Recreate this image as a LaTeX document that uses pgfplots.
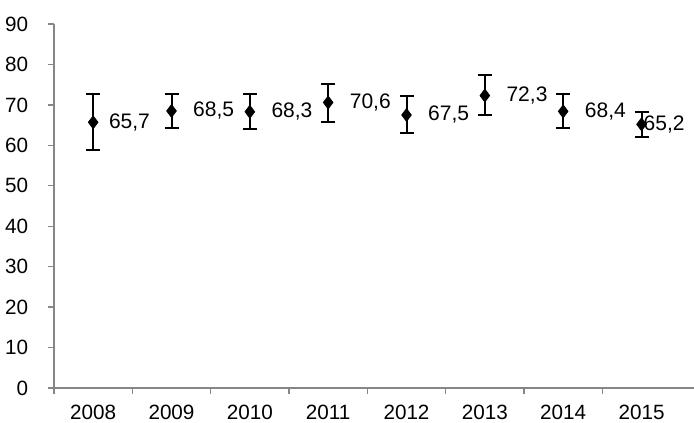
\documentclass[border=0pt]{standalone}
\usepackage{pgfplots}
\usepackage{pgfplotstable}
\pgfplotsset{compat=1.18}
\usepackage{fontspec}
\setmainfont{Liberation Sans}
\definecolor{axgray}{HTML}{868686}

% year index, value, error plus, error minus, label shift (pt)
\pgfplotstableread{
x y    ep  em  dx
0 65.7 7.1 6.8 6.0
1 68.5 4.1 4.1 9.5
2 68.3 4.3 4.3 9.5
3 70.6 4.6 4.8 9.5
4 67.5 4.6 4.5 9.5
5 72.3 5.0 4.8 9.5
6 68.4 4.2 4.2 9.5
7 65.2 3.0 3.2 -2.2
}\data

\begin{document}
\begin{tikzpicture}
\begin{axis}[name=ax,
  scale only axis, width=384pt, height=218.4pt,
  xmin=-0.5, xmax=7.67, ymin=0, ymax=90,
  axis x line*=bottom, axis y line*=left,
  axis line style={axgray, line width=0.8pt},
  tick style={axgray, line width=0.8pt},
  tick align=outside,
  major tick length=3.6pt, minor tick length=3.6pt,
  ytick={0,10,...,90},
  xtick={0,...,7},
  xticklabels={2008,2009,2010,2011,2012,2013,2014,2015},
  major x tick style={draw=none},
  minor xtick={-0.5,0.5,...,6.5},
  ticklabel style={font=\fontsize{12.4}{14}\selectfont, black},
  yticklabel style={xshift=-8.4pt},
  xticklabel style={yshift=-3pt},
  /pgf/number format/assume math mode=true,
  clip=false,
]
\addplot[black, only marks, mark=diamond*, mark size=3.9pt,
  visualization depends on={\thisrow{dx} \as \dx},
  nodes near coords={\pgfmathprintnumber[fixed, fixed zerofill, precision=1, use comma]{\pgfplotspointmeta}},
  every node near coord/.append style={anchor=west, xshift=\dx pt, font=\fontsize{12.6}{14}\selectfont, black},
  error bars/.cd, y dir=both, y explicit,
  error bar style={line width=1.2pt, black},
  error mark options={rotate=90, mark size=4.2pt, line width=1.2pt, black}]
  table[x=x, y=y, y error plus=ep, y error minus=em] {\data};
\end{axis}
\pgfresetboundingbox
\path[use as bounding box] ([xshift=-32.4pt, yshift=-21pt]ax.south west) rectangle ([yshift=14.4pt]ax.north east);
\end{tikzpicture}
\end{document}
